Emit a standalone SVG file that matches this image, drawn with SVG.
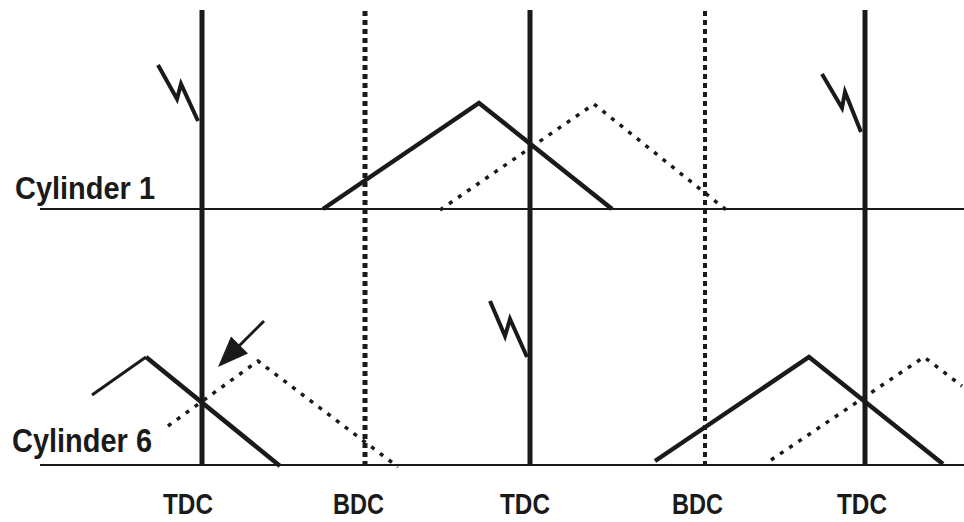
<svg xmlns="http://www.w3.org/2000/svg" width="964" height="522" viewBox="0 0 964 522">
<style>
.base{stroke:#1a1a1a;stroke-width:2;fill:none}
.tdc{stroke:#1a1a1a;stroke-width:5;fill:none}
.bdc{stroke:#1a1a1a;stroke-width:5;stroke-dasharray:5 4;fill:none}
.bdc2{stroke:#1a1a1a;stroke-width:4;stroke-dasharray:5 4;fill:none}
.solid{stroke:#1a1a1a;stroke-width:4.5;fill:none;stroke-linejoin:miter}
.dot{stroke:#1a1a1a;stroke-width:3.5;stroke-dasharray:4 7;fill:none}
.spark{stroke:#1a1a1a;stroke-width:4;fill:none;stroke-linejoin:miter}
.lbl{font-family:"Liberation Sans Narrow","Liberation Sans",Arial,sans-serif;font-weight:bold;fill:#1a1a1a}
</style>
<rect width="964" height="522" fill="#fff"/>
<g id="connectors">
<line class="base" x1="40" y1="209" x2="964" y2="209"/>
<line class="base" x1="40" y1="465" x2="964" y2="465"/>
<line class="tdc" x1="202" y1="10" x2="202" y2="466"/>
<line class="tdc" x1="530" y1="10" x2="530" y2="466"/>
<line class="tdc" x1="865" y1="10" x2="865" y2="466"/>
<line class="bdc" x1="365" y1="11" x2="365" y2="466"/>
<line class="bdc2" x1="705" y1="11" x2="705" y2="466"/>
</g>
<g id="cyl1-curves">
<polyline class="solid" points="323,209 479,103 612,209"/>
<polyline class="dot" points="440,210 594,104 730,213"/>
</g>
<g id="cyl6-curves">
<polyline class="solid" points="92,395 146,357" style="stroke-width:3"/>
<polyline class="solid" points="146,357 280,466"/>
<polyline class="dot" points="168,426 258,361 398,467"/>
<polyline class="solid" points="655,461 809,357 943,464"/>
<polyline class="dot" points="771,460 924,357 962,386"/>
</g>
<g id="sparks">
<polyline class="spark" points="158,65 177,99 181,84 198,121"/>
<polyline class="spark" points="490,301 505,336 510,319 527,357"/>
<polyline class="spark" points="822,74 842,108 845,92 861,132"/>
</g>
<g id="arrow">
<line x1="264" y1="321" x2="238" y2="347" stroke="#1a1a1a" stroke-width="3"/>
<polygon points="218,367 231,336.4 248,353.6" fill="#1a1a1a"/>
</g>
<g id="labels">
<text class="lbl" x="15" y="199" font-size="32" textLength="140" lengthAdjust="spacingAndGlyphs">Cylinder 1</text>
<text class="lbl" x="12" y="452" font-size="33" textLength="140" lengthAdjust="spacingAndGlyphs">Cylinder 6</text>
<text class="lbl" x="163" y="514" font-size="30" textLength="50" lengthAdjust="spacingAndGlyphs">TDC</text>
<text class="lbl" x="333" y="514" font-size="30" textLength="51" lengthAdjust="spacingAndGlyphs">BDC</text>
<text class="lbl" x="500" y="514" font-size="30" textLength="50" lengthAdjust="spacingAndGlyphs">TDC</text>
<text class="lbl" x="672" y="514" font-size="30" textLength="51" lengthAdjust="spacingAndGlyphs">BDC</text>
<text class="lbl" x="837" y="514" font-size="30" textLength="50" lengthAdjust="spacingAndGlyphs">TDC</text>
</g>
</svg>
